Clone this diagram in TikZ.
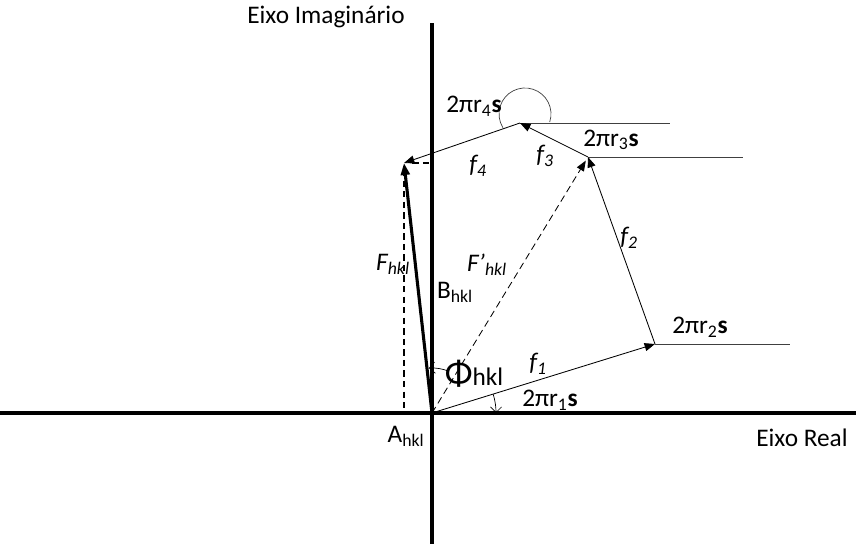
\documentclass[tikz,border=0pt]{standalone}
\usepackage{fontspec}
\setmainfont{Carlito}
\usetikzlibrary{arrows.meta}

\begin{document}
\begin{tikzpicture}[
    x=0.025cm, y=0.025cm,
    axis/.style={line width=2.4pt},
    vec/.style={line width=0.6pt, -{Triangle[length=0.26cm, width=0.2cm]}},
    bigvec/.style={line width=2.2pt, -{Triangle[length=0.3cm, width=0.22cm]}},
    refline/.style={line width=0.6pt, black!75},
    proj/.style={dash pattern=on 4.5pt off 3pt, line width=0.9pt},
    angarc/.style={line width=0.5pt, -{Straight Barb[length=0.14cm, width=0.28cm]}},
    lbl/.style={font=\fontsize{18}{21}\selectfont, inner sep=0pt},
    ilbl/.style={font=\fontsize{18}{21}\selectfont\itshape, inner sep=0pt}
]
\useasboundingbox (0,0) rectangle (856,544);

%% ---- Eixos ----
\coordinate (O)  at (432,131);
\coordinate (xl) at (0,131);
\coordinate (xr) at (856,131);
\coordinate (yt) at (432,521);
\coordinate (yb) at (432,0);
\draw[axis] (xl)--(xr);
\draw[axis] (yb)--(yt);

%% ---- Pontos ----
\coordinate (P1) at (655,200);
\coordinate (P2) at (588,387);
\coordinate (P3) at (520,421);
\coordinate (P4) at (404,381);
\coordinate (R1) at (790,200);
\coordinate (R2) at (743,387);
\coordinate (R3) at (670,421);

%% ---- Linhas de referencia ----
\draw[refline] (P1)--(R1);
\draw[refline] (P2)--(R2);
\draw[refline] (P3)--(R3);

%% ---- Vetores ----
\draw[vec] (O)--(P1);
\draw[vec] (P1)--(P2);
\draw[vec] (P2)--(P3);
\draw[vec] (P3)--(P4);
\draw[vec, dash pattern=on 5pt off 3pt, shorten >=3pt] (O)--(P2);
\draw[bigvec] (O)--(P4);
\draw[proj, shorten <=5pt] (P4)--(P4 |- O);
\draw[proj, shorten <=6pt] (P4)--(O |- P4);

%% ---- Angulos ----
\draw[refline, line width=0.5pt] ([shift={(-18:26)}]525,430) arc[start angle=-18, end angle=212, radius=26];
\draw[angarc] ([shift={(68:45)}]O) arc[start angle=68, end angle=94, radius=45];
\draw[angarc] ([shift={(17:64)}]O) arc[start angle=17, end angle=0, radius=64];

%% ---- Rotulos ----
\node[lbl]  (tIm) at (326,527) {Eixo Imaginário};
\node[lbl]  (tRe) at (802,106) {Eixo Real};
\node[lbl]  (tA)  at (406,108) {A\textsubscript{hkl}};
\node[lbl]  (tB)  at (455,252) {B\textsubscript{hkl}};
\node[ilbl] (tF)  at (393,280) {F\textsubscript{hkl}};
\node[ilbl] (tFp) at (487,279) {F’\textsubscript{hkl}};
\node[ilbl] (tf1) at (538,180) {f\textsubscript{1}};
\node[ilbl] (tf2) at (629,306) {f\textsubscript{2}};
\node[ilbl] (tf3) at (545,388) {f\textsubscript{3}};
\node[ilbl] (tf4) at (478,378) {f\textsubscript{4}};
\node[lbl]  (tr1) at (550,144) {2πr\textsubscript{1}\textbf{s}};
\node[lbl]  (tr2) at (700,217) {2πr\textsubscript{2}\textbf{s}};
\node[lbl]  (tr3) at (611,404) {2πr\textsubscript{3}\textbf{s}};
\node[lbl]  (tr4) at (474,438) {2πr\textsubscript{4}\textbf{s}};
\node[lbl]  (tPh) at (474,170) {{\fontsize{26}{28}\selectfont Φ}hkl};

\end{tikzpicture}
\end{document}
